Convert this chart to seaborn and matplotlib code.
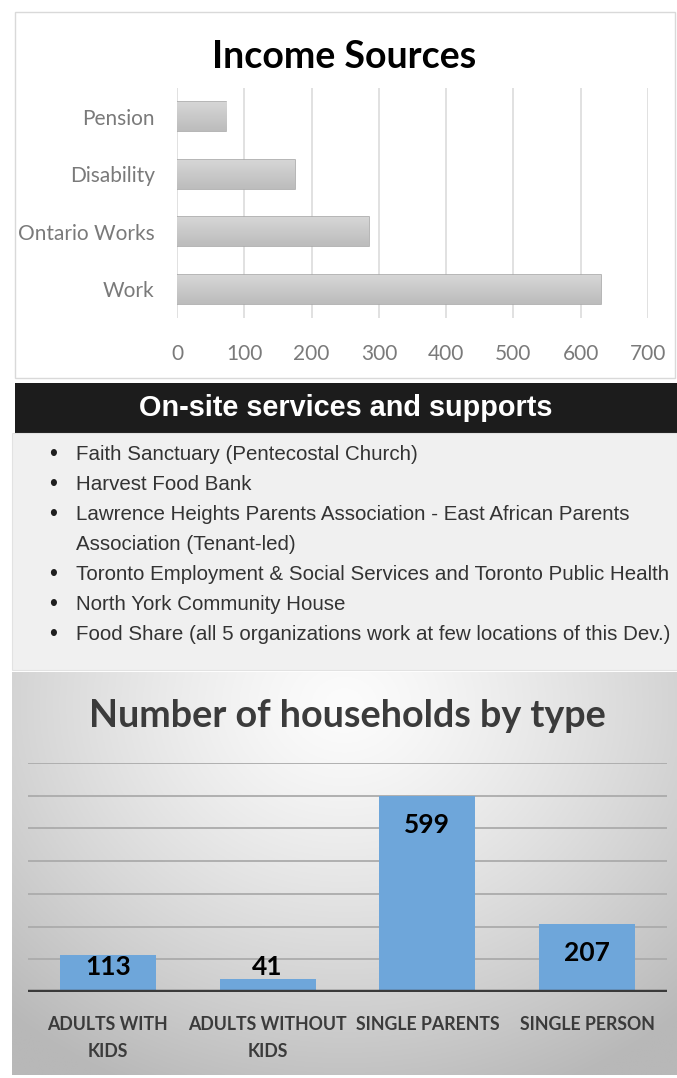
import numpy as np
import pandas as pd
import matplotlib
matplotlib.use("Agg")
import matplotlib.pyplot as plt
import seaborn as sns
from matplotlib.patches import Rectangle
from matplotlib import font_manager

# ---- data -------------------------------------------------------------
income_sources = ["Pension", "Disability", "Ontario Works", "Work"]
income_counts = [73, 175, 285, 630]
income_ticks = [0, 100, 200, 300, 400, 500, 600, 700]

services_title = "On-site services and supports"
services = [
    ["Faith Sanctuary (Pentecostal Church)"],
    ["Harvest Food Bank"],
    ["Lawrence Heights Parents Association - East African Parents",
     "Association (Tenant-led)"],
    ["Toronto Employment & Social Services and Toronto Public Health"],
    ["North York Community House"],
    ["Food Share (all 5 organizations work at few locations of this Dev.)"],
]

household_types = ["ADULTS WITH\nKIDS", "ADULTS WITHOUT\nKIDS",
                   "SINGLE PARENTS", "SINGLE PERSON"]
household_counts = [113, 41, 599, 207]
household_ticks = [0, 100, 200, 300, 400, 500, 600, 700]

# ---- fonts ------------------------------------------------------------
def has_font(name):
    try:
        font_manager.findfont(name, fallback_to_default=False)
        return True
    except Exception:
        return False

sns.set_theme(style="white")
plt.rcParams["font.family"] = ["Lato", "DejaVu Sans"]
narrow_ok = has_font("Liberation Sans Narrow")
NARROW = ["Liberation Sans Narrow", "Liberation Sans"] if narrow_ok else ["Liberation Sans"]

W, H = 677, 1078
fig = plt.figure(figsize=(W / 100, H / 100), dpi=100)
fig.patch.set_facecolor("white")


def rect(x0, y0, x1, y1):
    return [x0 / W, 1 - y1 / H, (x1 - x0) / W, (y1 - y0) / H]


def fig_box(x0, y0, x1, y1, **kw):
    r = Rectangle((x0 / W, 1 - y1 / H), (x1 - x0) / W, (y1 - y0) / H,
                  transform=fig.transFigure, **kw)
    fig.add_artist(r)
    return r


# ---- income sources panel --------------------------------------------
fig_box(15, 12, 675, 378, facecolor="white", edgecolor="#d9d9d9", lw=1.0, zorder=0)
fig.text(344 / W, 1 - 57 / H, "Income Sources", ha="center", va="center",
         fontsize=27, fontweight="bold", color="black")

ax1 = fig.add_axes(rect(177, 88, 648, 318))
inc_df = pd.DataFrame({"source": income_sources, "count": income_counts})
sns.barplot(data=inc_df, x="count", y="source", orient="h", ax=ax1,
            color="#c8c8c8", width=0.5, edgecolor="#a9a9a9", linewidth=1.2,
            zorder=3)
ax1.set_xlim(0, 700)
ax1.set_ylim(3.5, -0.5)
ax1.set_xticks(income_ticks)
ax1.set_xticklabels([str(t) for t in income_ticks])
ax1.set_xlabel("")
ax1.set_ylabel("")
ax1.xaxis.grid(True, color="#dcdcdc", lw=1.2, zorder=0)
ax1.yaxis.grid(False)
for s in ax1.spines.values():
    s.set_visible(False)
ax1.tick_params(axis="x", length=0, pad=19, labelsize=15, labelcolor="#7a7a7a")
ax1.tick_params(axis="y", length=0, pad=16, labelsize=15, labelcolor="#7a7a7a")
ax1.set_facecolor("none")

# soft vertical gradient inside each bar
grad = np.linspace(0, 1, 64).reshape(-1, 1)
bar_cmap = matplotlib.colors.LinearSegmentedColormap.from_list(
    "bar_grey", ["#d6d6d6", "#bcbcbc"])
for p in ax1.patches:
    x0, y0 = p.get_x(), p.get_y()
    w, h = p.get_width(), p.get_height()
    ax1.imshow(grad, extent=(x0, x0 + w, y0 + h, y0), aspect="auto",
               cmap=bar_cmap, zorder=3.5, clip_path=p, clip_on=True)
ax1.set_xlim(0, 700)
ax1.set_ylim(3.5, -0.5)

# ---- services panel --------------------------------------------------
fig_box(15, 383, 677, 433, facecolor="#1c1c1c", edgecolor="none", zorder=1)
fig.text(346 / W, 1 - 408 / H, services_title, ha="center", va="center",
         fontsize=24 if narrow_ok else 20.8, fontweight="bold", color="white",
         family=NARROW, zorder=2)
fig_box(12, 433, 677, 670, facecolor="#f0f0f0", edgecolor="#e2e2e2", lw=0.8, zorder=1)

line_y = 454
line_step = 30
body_size = 17 if narrow_ok else 14.8
for item in services:
    fig.text(53 / W, 1 - line_y / H, "\u2022", ha="center", va="center",
             fontsize=body_size * 1.1, color="#1e1e1e", family=NARROW, zorder=2)
    for line in item:
        fig.text(76 / W, 1 - line_y / H, line, ha="left", va="center",
                 fontsize=body_size, color="#333333", family=NARROW, zorder=2)
        line_y += line_step

# ---- households panel --------------------------------------------------
bg = fig.add_axes(rect(12, 672, 677, 1075), zorder=0)
gx, gy = np.meshgrid(np.linspace(0, 1, 300), np.linspace(0, 1, 300))
r = np.sqrt(((gx - 0.5) / 0.75) ** 2 + ((gy - 0.08) / 1.05) ** 2)
shade = 252 - 68 * np.clip(r, 0, 1) ** 1.3
bg.imshow(np.dstack([shade, shade, shade]) / 255.0, aspect="auto",
          extent=(0, 1, 1, 0))
bg.set_axis_off()

fig.text(347 / W, 1 - 716 / H, "Number of households by type", ha="center",
         va="center", fontsize=27.2, fontweight="bold", color="#3b3b3b", zorder=5)

ax2 = fig.add_axes(rect(28, 763, 667, 992), zorder=2)
ax2.set_facecolor("none")
hh_df = pd.DataFrame({"type": household_types, "count": household_counts})
sns.barplot(data=hh_df, x="type", y="count", ax=ax2, color="#6ea6da",
            saturation=1, width=0.6, linewidth=0, zorder=3)
ax2.set_ylim(0, 700)
ax2.set_xlim(-0.5, 3.5)
ax2.set_yticks(household_ticks)
ax2.set_yticklabels([])
ax2.yaxis.grid(True, color="#ababab", lw=1.3, zorder=0)
ax2.xaxis.grid(False)
ax2.axhline(0, color="#3a3a3a", lw=3.2, zorder=4)
for s in ax2.spines.values():
    s.set_visible(False)
ax2.set_xlabel("")
ax2.set_ylabel("")
ax2.tick_params(axis="y", length=0)
ax2.tick_params(axis="x", length=0, pad=17, labelsize=12.8, labelcolor="#3b3b3b")
for lab in ax2.get_xticklabels():
    lab.set_fontweight("bold")
    lab.set_linespacing(1.75)

for i, v in enumerate(household_counts):
    ax2.text(i, max(v - 88, 76), str(v), ha="center", va="center",
             fontsize=19, fontweight="bold", color="black", zorder=5)

fig.savefig("out.png", dpi=100, facecolor="white")
